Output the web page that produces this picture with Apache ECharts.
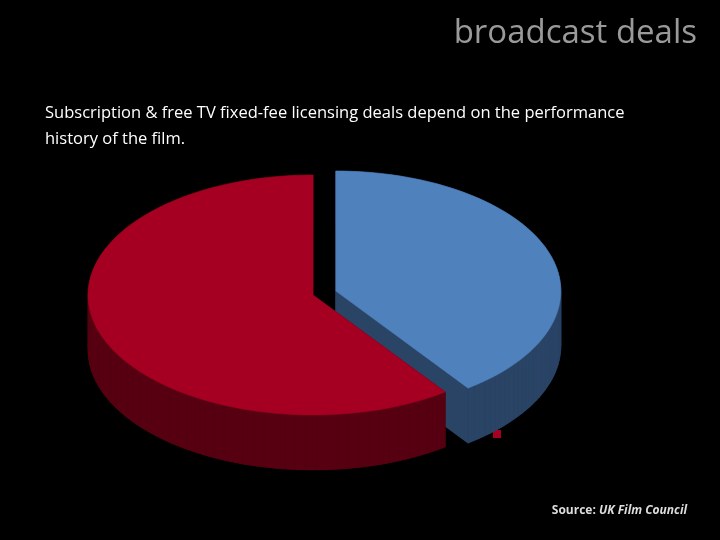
<!DOCTYPE html>
<html><head><meta charset="utf-8">
<script src="https://cdn.jsdelivr.net/npm/echarts@6/dist/echarts.min.js"></script>
<style>html,body{margin:0;background:#000}#c{width:720px;height:540px}</style>
</head><body><div id="c"></div>
<script>
// share of broadcast deal revenue
const categories = ['DISTRIBUTOR', 'PRODUCER'];
const shares = [40, 60];
const topColors = ['#4F81BD', '#A50021'];
const sideColors = ['#2A4466', '#560012'];

const cx = 313, cy = 295, rx = 225, ry = 120, depth = 55;
const explode = [24, 0];
const total = shares.reduce((a, b) => a + b, 0);

function ellPt(ox, oy, th) {
  return [ox + rx * Math.sin(th), oy - ry * Math.cos(th)];
}

function renderSlice(params, api) {
  const i = params.dataIndex;
  let start = 0;
  for (let k = 0; k < i; k++) start += shares[k];
  const a0 = start / total * Math.PI * 2;
  const a1 = (start + api.value(0)) / total * Math.PI * 2;
  const mid = (a0 + a1) / 2;
  const ox = cx + explode[i] * Math.sin(mid);
  const oy = cy - explode[i] * Math.cos(mid) * ry / rx;
  const arc = [];
  const n = 80;
  for (let s = 0; s <= n; s++) arc.push(ellPt(ox, oy, a0 + (a1 - a0) * s / n));
  const top = [[ox, oy]].concat(arc);
  const children = [];
  const side = { fill: sideColors[i] };
  // bottom face and walls
  children.push({ type: 'polygon', shape: { points: top.map(p => [p[0], p[1] + depth]) }, style: side });
  for (let s = 0; s < top.length; s++) {
    const p = top[s], q = top[(s + 1) % top.length];
    children.push({ type: 'polygon', shape: { points: [p, q, [q[0], q[1] + depth], [p[0], p[1] + depth]] }, style: { fill: sideColors[i], stroke: sideColors[i], lineWidth: 0.5 } });
  }
  children.push({ type: 'polygon', shape: { points: top }, style: { fill: topColors[i], stroke: topColors[i], lineWidth: 0.5 } });
  return { type: 'group', children };
}

const chart = echarts.init(document.getElementById('c'));
chart.setOption({
  backgroundColor: '#000',
  animation: false,
  title: [
    { text: 'broadcast deals', right: 18, top: 12, textStyle: { color: '#9a9a9a', fontSize: 33, fontWeight: 'normal', fontFamily: 'Open Sans' } },
    { text: 'Subscription & free TV fixed-fee licensing deals depend on the performance\nhistory of the film.', left: 40, top: 95, textStyle: { color: '#fff', fontSize: 16.5, fontWeight: 'normal', lineHeight: 26, fontFamily: 'Open Sans' } },
    { text: '{b|Source:} UK Film Council', right: 28, top: 500, textStyle: { color: '#ddd', fontSize: 12, fontStyle: 'italic', fontFamily: 'Open Sans', rich: { b: { fontWeight: 'bold', fontStyle: 'normal', color: '#ddd', fontSize: 12, fontFamily: 'Open Sans' } } } }
  ],
  series: [{
    type: 'custom',
    coordinateSystem: 'none',
    renderItem: renderSlice,
    data: shares.map(v => [v])
  }],
  graphic: [
    { type: 'text', left: 398, top: 254, style: { text: categories[0] + ',\n' + shares[0] + '%', fill: '#000', font: '11.5px "Open Sans"', align: 'center', lineHeight: 17, x: 29 } },
    { type: 'text', left: 152, top: 292, style: { text: categories[1] + ', ' + shares[1] + '%', fill: '#000', font: '11.5px "Open Sans"' } },
    { type: 'rect', left: 493, top: 415, shape: { width: 8, height: 8 }, style: { fill: topColors[0] } },
    { type: 'text', left: 504, top: 413, style: { text: categories[0], fill: '#000', font: '10px sans-serif' } },
    { type: 'rect', left: 493, top: 430, shape: { width: 8, height: 8 }, style: { fill: topColors[1] } },
    { type: 'text', left: 504, top: 428, style: { text: categories[1], fill: '#000', font: '10px sans-serif' } }
  ]
});
</script></body></html>
